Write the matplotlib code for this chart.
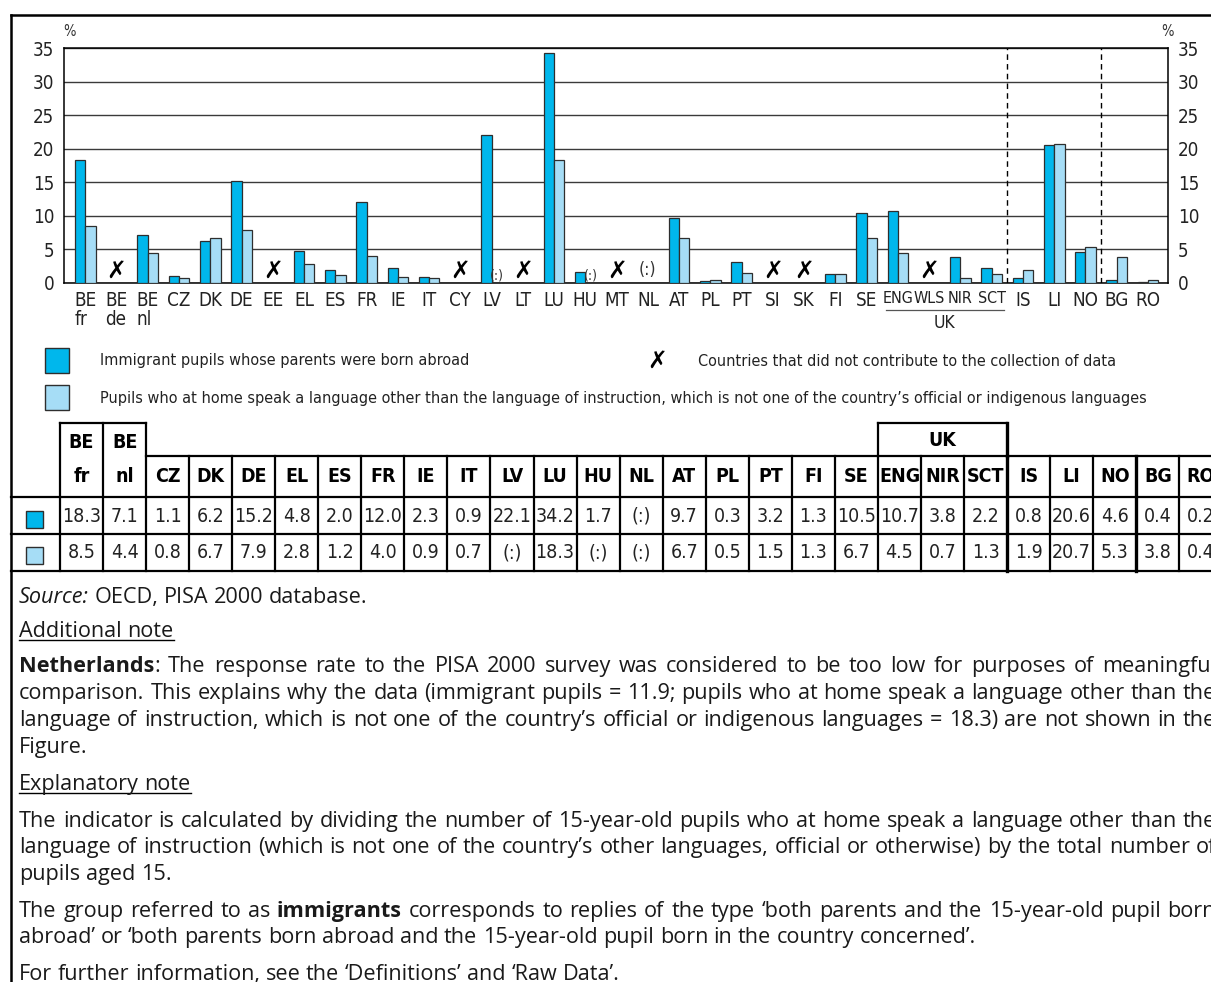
import re
import numpy as np
import matplotlib
matplotlib.use('Agg')
import matplotlib.pyplot as plt
import matplotlib.transforms as mtransforms
from matplotlib import font_manager as fm
from matplotlib.lines import Line2D
from matplotlib.patches import Rectangle

W, H = 1211, 982

# --- data ---------------------------------------------------------------
countries = ['BE fr', 'BE de', 'BE nl', 'CZ', 'DK', 'DE', 'EE', 'EL', 'ES', 'FR', 'IE', 'IT',
             'CY', 'LV', 'LT', 'LU', 'HU', 'MT', 'NL', 'AT', 'PL', 'PT', 'SI', 'SK', 'FI', 'SE',
             'ENG', 'WLS', 'NIR', 'SCT', 'IS', 'LI', 'NO', 'BG', 'RO']
uk_parts = ['ENG', 'WLS', 'NIR', 'SCT']
no_data = ['BE de', 'EE', 'CY', 'LT', 'MT', 'SI', 'SK', 'WLS']

# None = (:) data not available
immigrant = [18.3, None, 7.1, 1.1, 6.2, 15.2, None, 4.8, 2.0, 12.0, 2.3, 0.9,
             None, 22.1, None, 34.2, 1.7, None, None, 9.7, 0.3, 3.2, None, None, 1.3, 10.5,
             10.7, None, 3.8, 2.2, 0.8, 20.6, 4.6, 0.4, 0.2]
other_lang = [8.5, None, 4.4, 0.8, 6.7, 7.9, None, 2.8, 1.2, 4.0, 0.9, 0.7,
              None, None, None, 18.3, None, None, None, 6.7, 0.5, 1.5, None, None, 1.3, 6.7,
              4.5, None, 0.7, 1.3, 1.9, 20.7, 5.3, 3.8, 0.4]
yticks = [0, 5, 10, 15, 20, 25, 30, 35]
separators = [29.5, 32.5]

legend_labels = ['Immigrant pupils whose parents were born abroad',
                 'Pupils who at home speak a language other than the language of instruction, '
                 'which is not one of the country\u2019s official or indigenous languages']
no_data_label = 'Countries that did not contribute to the collection of data'

notes = [
    ('__Source:__ OECD, PISA 2000 database.', 603, False, False),
    ('Additional note', 637, False, True),
    ('**Netherlands**: The response rate to the PISA 2000 survey was considered to be too low for purposes of meaningful', 672, True, False),
    ('comparison. This explains why the data (immigrant pupils = 11.9; pupils who at home speak a language other than the', 699, True, False),
    ('language of instruction, which is not one of the country\u2019s official or indigenous languages = 18.3) are not shown in the', 726, True, False),
    ('Figure.', 753, False, False),
    ('Explanatory note', 790, False, True),
    ('The indicator is calculated by dividing the number of 15-year-old pupils who at home speak a language other than the', 827, True, False),
    ('language of instruction (which is not one of the country\u2019s other languages, official or otherwise) by the total number of', 853, True, False),
    ('pupils aged 15.', 880, False, False),
    ('The group referred to as **immigrants** corresponds to replies of the type \u2018both parents and the 15-year-old pupil born', 917, True, False),
    ('abroad\u2019 or \u2018both parents born abroad and the 15-year-old pupil born in the country concerned\u2019.', 943, False, False),
    ('For further information, see the \u2018Definitions\u2019 and \u2018Raw Data\u2019.', 980, False, False),
]

DARK = '#00B7EC'
LIGHT = '#A6DDF6'
EDGE = '#2e2e2e'

# condensed font for the chart and table
names = {f.name for f in fm.fontManager.ttflist}
if 'Liberation Sans Narrow' in names:
    plt.rcParams['font.family'] = 'Liberation Sans Narrow'
else:
    plt.rcParams['font.family'] = 'DejaVu Sans'
    plt.rcParams['font.stretch'] = 'condensed'
BODY = dict(family='Open Sans', stretch='normal')

fig = plt.figure(figsize=(W / 100, H / 100), dpi=100)
renderer = fig.canvas.get_renderer()


def fx(x):
    return x / W


def fy(y):
    return 1 - y / H


def text(x, y, s, **kw):
    return fig.text(fx(x), fy(y), s, **kw)


def hline(x0, x1, y, lw=1.6, color='black'):
    fig.add_artist(Line2D([fx(x0), fx(x1)], [fy(y), fy(y)], transform=fig.transFigure,
                          lw=lw, color=color, solid_capstyle='projecting'))


def vline(x, y0, y1, lw=1.6, color='black'):
    fig.add_artist(Line2D([fx(x), fx(x)], [fy(y0), fy(y1)], transform=fig.transFigure,
                          lw=lw, color=color, solid_capstyle='projecting'))


def box(x, y, w, h, fc):
    fig.add_artist(Rectangle((fx(x), fy(y + h)), w / W, h / H, transform=fig.transFigure,
                             fc=fc, ec=EDGE, lw=1))


def width_of(t):
    return t.get_window_extent(renderer).width


# outer frame
hline(11, W + 5, 15, lw=1.8)
vline(11, 15, H + 5, lw=1.8)

# --- chart --------------------------------------------------------------
ax = fig.add_axes([fx(64), fy(283), (1168 - 64) / W, (283 - 48) / H])
x = np.arange(len(countries))
imm = np.array([np.nan if v is None else v for v in immigrant])
oth = np.array([np.nan if v is None else v for v in other_lang])
bw = 0.33
ax.bar(x - bw / 2, imm, bw, color=DARK, edgecolor=EDGE, lw=0.9, zorder=3)
ax.bar(x + bw / 2, oth, bw, color=LIGHT, edgecolor=EDGE, lw=0.9, zorder=3)

for i, c in enumerate(countries):
    if c in no_data:
        ax.text(i, 0.1, '\u2717', ha='center', va='bottom', fontsize=17,
                fontweight='bold', family='DejaVu Sans', stretch='normal', zorder=4)
    elif immigrant[i] is None and other_lang[i] is None:
        ax.text(i, 0.6, '(:)', ha='center', va='bottom', fontsize=12.5, color='#333333')
    elif other_lang[i] is None:
        ax.text(i + bw / 2, 0.1, '(:)', ha='center', va='bottom', fontsize=10, color='#333333')

ax.set_xlim(-0.68, len(countries) - 1 + 0.64)
ax.set_ylim(0, 35)
ax.set_yticks(yticks)
ax.yaxis.grid(True, color='#3a3a3a', lw=1)
ax.set_axisbelow(True)
for s in separators:
    ax.axvline(s, color='black', lw=1, ls=(0, (4, 3)), zorder=2)
for sp in ax.spines.values():
    sp.set_color('black')
    sp.set_linewidth(1.1)

ax.set_xticks(x, [c.replace(' ', '\n') for c in countries])
ax.tick_params(axis='x', length=0, pad=6, labelsize=13.5, colors='#222222')
ax.tick_params(axis='y', length=0, pad=7, labelsize=13.5, labelright=True, colors='#222222')
for t, c in zip(ax.get_xticklabels(), countries):
    t.set_linespacing(0.95)
    if c.startswith('BE'):
        t.set_multialignment('left')
    if c in uk_parts:
        t.set_fontsize(11.5)

blend = mtransforms.blended_transform_factory(ax.transData, fig.transFigure)
i0, i1 = countries.index('ENG'), countries.index('SCT')
fig.add_artist(Line2D([i0 - 0.38, i1 + 0.38], [fy(310), fy(310)], transform=blend,
                      color='#555555', lw=0.9))
fig.text((i0 + i1) / 2, fy(323), 'UK', transform=blend, ha='center', va='center',
         fontsize=12.5, color='#222222')

text(70, 32, '%', ha='center', va='center', fontsize=10.5, color='#333333')
text(1167, 32, '%', ha='center', va='center', fontsize=10.5, color='#333333')

# --- legend -------------------------------------------------------------
probe = text(0, 0, legend_labels[1], fontsize=14)
leg_size = 14 * 1046 / width_of(probe)
probe.remove()
box(45, 348, 24, 25, DARK)
box(45, 385, 24, 25, LIGHT)
text(100, 361, legend_labels[0], va='center', fontsize=leg_size, color='#222222')
text(100, 398, legend_labels[1], va='center', fontsize=leg_size, color='#222222')
text(657, 361, '\u2717', ha='center', va='center', fontsize=17, fontweight='bold',
     family='DejaVu Sans', stretch='normal')
text(698, 361, no_data_label, va='center', fontsize=leg_size, color='#222222')

# --- table --------------------------------------------------------------
cols = [i for i, c in enumerate(countries) if c not in no_data]
x0, cw = 60, 43.05
tsize = 14


def fmt(v):
    return '(:)' if v is None else f'{v:.1f}'


for j, i in enumerate(cols):
    c = countries[i]
    cx = x0 + j * cw + cw / 2
    if c.startswith('BE'):
        text(cx, 443, c.split()[0], ha='center', va='center', fontsize=tsize, fontweight='bold')
        text(cx, 477, c.split()[1], ha='center', va='center', fontsize=tsize, fontweight='bold')
    else:
        text(cx, 477, c, ha='center', va='center', fontsize=tsize, fontweight='bold')
    text(cx, 516, fmt(immigrant[i]), ha='center', va='center', fontsize=tsize, color='#222222')
    text(cx, 553, fmt(other_lang[i]), ha='center', va='center', fontsize=tsize, color='#222222')

n_be = sum(countries[i].startswith('BE') for i in cols)
uk_cols = [j for j, i in enumerate(cols) if countries[i] in uk_parts]
thick = {uk_cols[-1] + 1, len(cols) - 2}
for j in range(len(cols) + 1):
    top = 423 if j <= n_be else 456
    vline(x0 + j * cw, top, 571, lw=2.4 if j in thick else 1.6)
hline(x0, x0 + n_be * cw, 423)
hline(x0 + n_be * cw, W + 5, 456)
ux0, ux1 = x0 + uk_cols[0] * cw, x0 + (uk_cols[-1] + 1) * cw
hline(ux0, ux1, 423)
vline(ux0, 423, 456)
vline(ux1, 423, 456, lw=2.4)
text((ux0 + ux1) / 2, 440, 'UK', ha='center', va='center', fontsize=tsize, fontweight='bold')
for y in (497, 534, 571):
    hline(11, W + 5, y)
box(26, 511, 17, 17, DARK)
box(26, 547, 17, 17, LIGHT)


# --- notes --------------------------------------------------------------
probe = text(0, 0, notes[3][0], fontsize=14, **BODY)
BODY_SIZE = 14 * 1190 / width_of(probe)
probe.remove()


def parse(line):
    words, cur, bold, ital = [], [], False, False
    for tok in re.split(r'(\*\*|__)', line):
        if tok == '**':
            bold = not bold
            continue
        if tok == '__':
            ital = not ital
            continue
        parts = tok.split(' ')
        for k, p in enumerate(parts):
            if k > 0:
                if cur:
                    words.append(cur)
                cur = []
            if p:
                cur.append((p, bold, ital))
    if cur:
        words.append(cur)
    return words


def draw_line(line, y, justify, underline, xl=19, xr=1216):
    words = parse(line)
    arts = []
    for w in words:
        segs = []
        for s, b, it in w:
            t = text(0, y, s, fontsize=BODY_SIZE, fontweight='bold' if b else 'normal',
                     style='italic' if it else 'normal', color='#1a1a1a', **BODY)
            segs.append((t, width_of(t)))
        arts.append(segs)
    sp1 = text(0, y, 'x x', fontsize=BODY_SIZE, **BODY)
    sp2 = text(0, y, 'xx', fontsize=BODY_SIZE, **BODY)
    gap = width_of(sp1) - width_of(sp2)
    sp1.remove()
    sp2.remove()
    total = sum(wd for segs in arts for _, wd in segs)
    if justify and len(arts) > 1:
        gap = (xr - xl - total) / (len(arts) - 1)
    cx = xl
    for segs in arts:
        for t, wd in segs:
            t.set_position((fx(cx), fy(y)))
            cx += wd
        cx += gap
    if underline:
        hline(xl, cx - gap, y + 3, lw=1)


for line, y, just, und in notes:
    draw_line(line, y, just, und)

fig.savefig('out.png', dpi=100)
